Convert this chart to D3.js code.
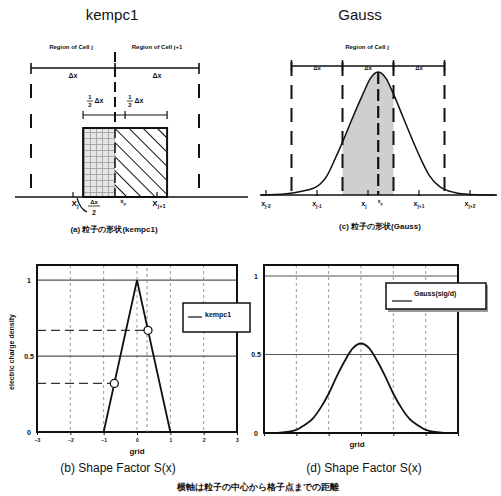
<!DOCTYPE html>
<html><head><meta charset="utf-8">
<script src="https://cdn.jsdelivr.net/npm/d3@7"></script>
<style>
body{margin:0;background:#fff}
svg{display:block}
text{font-family:"Liberation Sans",Arial,sans-serif;fill:#111}
</style>
</head><body>
<svg id="c" width="501" height="496"></svg>
<script>
// ---------------- data ----------------
const panelTitles = ["kempc1", "Gauss"];
const topCaptions = ["(a) 粒子の形状(kempc1)", "(c) 粒子の形状(Gauss)"];
const bottomCaptions = ["(b) Shape Factor S(x)", "(d) Shape Factor S(x)"];
const footnote = "横軸は粒子の中心から格子点までの距離";
const regionLabels = ["Region of Cell j", "Region of Cell j+1"];

// panel (a): top-hat particle, grid units (x_j = 0, x_j+1 = 1)
const cellEdgesA = [-0.5, 0.5, 1.5];
const particleEdgesA = [0.12, 1.12];
const xpA = 0.62;
const gridPtsA = [0, 1];
const gridSubsA = ["j", "j+1"];

// panel (c): Gaussian particle
const cellEdgesC = [-1.5, -0.5, 0.5, 1.5];
const gridPtsC = [-2, -1, 0, 1, 2];
const gridSubsC = ["j-2", "j-1", "j", "j+1", "j+2"];
const xpC = 0.2;
const gaussOffsets = [-2.3, -1.8, -1.5, -1.2, -1.0, -0.85, -0.7, -0.5, -0.3, -0.15, 0, 0.15, 0.3, 0.5, 0.7, 0.85, 1.0, 1.2, 1.5, 1.8, 2.3];
const gaussHeights = [0.0, 0.01, 0.03, 0.07, 0.16, 0.29, 0.43, 0.63, 0.82, 0.95, 1.0, 0.95, 0.82, 0.62, 0.42, 0.28, 0.16, 0.07, 0.02, 0.005, 0.0];

// panel (b): kempc1 shape factor
const gridTicks = [-3, -2, -1, 0, 1, 2, 3];
const gridLines = [-2, -1, 0, 1, 2];
const kempX = [-1, 0, 1];
const kempY = [0, 1, 0];
const markerX = [-0.68, 0.33];
const markerY = [0.32, 0.67];
const yTickVals = [0, 0.5, 1];
const yTickLabels = ["0", "0.5", "1"];

// panel (d): Gauss shape factor
const gaussX = [-3, -2.5, -2, -1.75, -1.5, -1.25, -1, -0.75, -0.5, -0.25, 0, 0.25, 0.5, 0.75, 1, 1.25, 1.5, 1.75, 2, 2.5, 3];
const gaussY = [0, 0.003, 0.02, 0.05, 0.09, 0.16, 0.25, 0.36, 0.46, 0.54, 0.57, 0.54, 0.46, 0.36, 0.25, 0.16, 0.09, 0.05, 0.02, 0.003, 0];

// ---------------- drawing ----------------
const svg = d3.select("#c");
const defs = svg.append("defs");

const gp = defs.append("pattern").attr("id", "gridPat").attr("width", 6).attr("height", 6).attr("patternUnits", "userSpaceOnUse");
gp.append("rect").attr("width", 6).attr("height", 6).attr("fill", "#e6e6e6");
gp.append("path").attr("d", "M0,0.5H6M0.5,0V6").attr("stroke", "#9a9a9a").attr("stroke-width", 0.8);

const hp = defs.append("pattern").attr("id", "hatchPat").attr("width", 10).attr("height", 10)
  .attr("patternUnits", "userSpaceOnUse").attr("patternTransform", "rotate(-45)");
hp.append("rect").attr("width", 10).attr("height", 10).attr("fill", "#fff");
hp.append("line").attr("x1", 0).attr("y1", 0).attr("x2", 0).attr("y2", 10).attr("stroke", "#111").attr("stroke-width", 2);

function txt(g, x, y, s, size, opts = {}) {
  const t = g.append("text").attr("x", x).attr("y", y).attr("font-size", size)
    .attr("text-anchor", opts.anchor || "middle").text(s);
  if (opts.bold) t.attr("font-weight", "bold");
  return t;
}
function subLabel(g, x, y, base, sub, size) {
  const t = g.append("text").attr("x", x).attr("y", y).attr("font-size", size).attr("text-anchor", "middle").attr("font-weight", "bold");
  t.append("tspan").text(base);
  t.append("tspan").attr("dy", 2).attr("font-size", size * 0.7).text(sub);
  return t;
}

// titles
txt(svg, 112, 20, panelTitles[0], 15);
txt(svg, 360, 20, panelTitles[1], 15);

// ===== panel (a) =====
{
  const g = svg.append("g");
  const xa = d3.scaleLinear().domain([0, 1]).range([73, 157]);
  const ya = d3.scaleLinear().domain([0, 1]).range([197, 128]);
  txt(g, xa(0) - 2, 49, regionLabels[0], 6, {bold: true});
  txt(g, xa(1), 49, regionLabels[1], 6, {bold: true});
  g.append("line").attr("x1", xa(cellEdgesA[0])).attr("x2", xa(cellEdgesA[2])).attr("y1", 68).attr("y2", 68).attr("stroke", "#111").attr("stroke-width", 1.6);
  cellEdgesA.forEach(e => g.append("line").attr("x1", xa(e)).attr("x2", xa(e)).attr("y1", 63).attr("y2", 74).attr("stroke", "#111").attr("stroke-width", 1.6));
  txt(g, xa(0), 78, "Δx", 7, {bold: true});
  txt(g, xa(1), 78, "Δx", 7, {bold: true});
  cellEdgesA.forEach((e, i) => g.append("line").attr("x1", xa(e)).attr("x2", xa(e))
    .attr("y1", i === 1 ? 52 : 84).attr("y2", 196).attr("stroke", "#111").attr("stroke-width", 2)
    .attr("stroke-dasharray", i === 1 ? "10,5" : "14,16"));
  g.append("rect").attr("x", xa(particleEdgesA[0])).attr("y", ya(1)).attr("width", xa(0.5) - xa(particleEdgesA[0])).attr("height", ya(0) - ya(1)).attr("fill", "url(#gridPat)");
  g.append("rect").attr("x", xa(0.5)).attr("y", ya(1)).attr("width", xa(particleEdgesA[1]) - xa(0.5)).attr("height", ya(0) - ya(1)).attr("fill", "url(#hatchPat)");
  g.append("rect").attr("x", xa(particleEdgesA[0])).attr("y", ya(1)).attr("width", xa(particleEdgesA[1]) - xa(particleEdgesA[0])).attr("height", ya(0) - ya(1)).attr("fill", "none").attr("stroke", "#111").attr("stroke-width", 2);
  g.append("line").attr("x1", xa(0.5)).attr("x2", xa(0.5)).attr("y1", ya(1)).attr("y2", ya(0)).attr("stroke", "#111").attr("stroke-width", 1.5).attr("stroke-dasharray", "10,5");
  g.append("line").attr("x1", xa(particleEdgesA[0])).attr("x2", xa(particleEdgesA[1])).attr("y1", 115).attr("y2", 115).attr("stroke", "#111").attr("stroke-width", 1.2);
  [particleEdgesA[0], xpA, particleEdgesA[1]].forEach(e => g.append("line").attr("x1", xa(e)).attr("x2", xa(e)).attr("y1", 111).attr("y2", 119).attr("stroke", "#111").attr("stroke-width", 1.2));
  [95, 135].forEach(x => {
    txt(g, x - 5, 99, "1", 6, {bold: true});
    g.append("line").attr("x1", x - 8).attr("x2", x - 2).attr("y1", 101).attr("y2", 101).attr("stroke", "#111").attr("stroke-width", 0.8);
    txt(g, x - 5, 107, "2", 6, {bold: true});
    txt(g, x + 4, 103, "Δx", 7, {bold: true});
  });
  g.append("line").attr("x1", 15).attr("x2", 248).attr("y1", ya(0)).attr("y2", ya(0)).attr("stroke", "#111").attr("stroke-width", 1.5);
  gridPtsA.forEach(p => g.append("line").attr("x1", xa(p)).attr("x2", xa(p)).attr("y1", ya(0) - 5).attr("y2", ya(0)).attr("stroke", "#111").attr("stroke-width", 1.2));
  gridPtsA.forEach((p, i) => subLabel(g, xa(p) + 2, 206, "X", gridSubsA[i], 8));
  subLabel(g, xa(xpA) - 2, 203, "x", "p", 6);
  g.append("path").attr("d", `M${xa(0) + 4},${ya(0) + 1} Q${xa(0) + 7},${ya(0) + 12} ${xa(0) + 14},${ya(0) + 15}`).attr("fill", "none").attr("stroke", "#111").attr("stroke-width", 1.2);
  txt(g, 94, 204, "Δx", 6, {bold: true});
  g.append("line").attr("x1", 88).attr("x2", 100).attr("y1", 206).attr("y2", 206).attr("stroke", "#111").attr("stroke-width", 0.8);
  txt(g, 94, 215, "2", 7, {bold: true});
  txt(g, 114, 232, topCaptions[0], 8, {bold: true});
}

// ===== panel (c) =====
{
  const g = svg.append("g");
  const xc = d3.scaleLinear().domain([0, 1]).range([368, 419]);
  const yc = d3.scaleLinear().domain([0, 1]).range([195, 72]);
  txt(g, 367, 49, regionLabels[0], 6, {bold: true});
  const pts = gaussOffsets.map((d, i) => [xc(xpC + d), yc(gaussHeights[i])]);
  defs.append("clipPath").attr("id", "cellClip").append("rect")
    .attr("x", xc(cellEdgesC[1])).attr("y", 60).attr("width", xc(cellEdgesC[2]) - xc(cellEdgesC[1])).attr("height", 140);
  g.append("path").datum(pts).attr("clip-path", "url(#cellClip)")
    .attr("d", d3.area().x(d => d[0]).y0(yc(0)).y1(d => d[1]).curve(d3.curveMonotoneX))
    .attr("fill", "#cfcfcf");
  g.append("line").attr("x1", xc(cellEdgesC[0])).attr("x2", xc(cellEdgesC[3])).attr("y1", 66).attr("y2", 66).attr("stroke", "#111").attr("stroke-width", 1.5);
  cellEdgesC.forEach(e => g.append("line").attr("x1", xc(e)).attr("x2", xc(e)).attr("y1", 60).attr("y2", 71).attr("stroke", "#111").attr("stroke-width", 1.5));
  [-1, 0, 1].forEach(c => txt(g, xc(c), 70, "Δx", 6, {bold: true}));
  cellEdgesC.forEach(e => g.append("line").attr("x1", xc(e)).attr("x2", xc(e)).attr("y1", 62).attr("y2", 194)
    .attr("stroke", "#111").attr("stroke-width", 2).attr("stroke-dasharray", "14,9"));
  g.append("path").datum(pts).attr("d", d3.line().curve(d3.curveMonotoneX)).attr("fill", "none").attr("stroke", "#111").attr("stroke-width", 1.5);
  g.append("line").attr("x1", xc(xpC)).attr("x2", xc(xpC)).attr("y1", yc(1)).attr("y2", yc(0)).attr("stroke", "#111").attr("stroke-width", 2.2).attr("stroke-dasharray", "12,5");
  g.append("line").attr("x1", 260).attr("x2", 497).attr("y1", yc(0)).attr("y2", yc(0)).attr("stroke", "#111").attr("stroke-width", 1.5);
  gridPtsC.forEach(p => g.append("line").attr("x1", xc(p)).attr("x2", xc(p)).attr("y1", yc(0) - 5).attr("y2", yc(0) + 1).attr("stroke", "#111").attr("stroke-width", 1.2));
  gridPtsC.forEach((p, i) => subLabel(g, xc(p) - (p === 0 ? 4 : 0), 206, "x", gridSubsC[i], 7));
  subLabel(g, xc(xpC) + 2, 203, "x", "p", 5);
  txt(g, 380, 229, topCaptions[1], 8, {bold: true});
}

// ===== bottom panels =====
function shapePanel(opt) {
  const g = svg.append("g");
  const x = d3.scaleLinear().domain([-3, 3]).range(opt.xr);
  const y = d3.scaleLinear().domain([0, opt.ymax]).range(opt.yr);
  const [x0, x1] = opt.xr, [yb, yt] = opt.yr;
  gridLines.forEach(v => g.append("line").attr("x1", x(v)).attr("x2", x(v)).attr("y1", yt).attr("y2", yb)
    .attr("stroke", "#999").attr("stroke-width", 1).attr("stroke-dasharray", "3,3"));
  [0.5, 1].forEach(v => g.append("line").attr("x1", x0).attr("x2", x1).attr("y1", y(v)).attr("y2", y(v))
    .attr("stroke", "#555").attr("stroke-width", 1.2));
  g.append("rect").attr("x", x0).attr("y", yt).attr("width", x1 - x0).attr("height", yb - yt)
    .attr("fill", "none").attr("stroke", "#111").attr("stroke-width", 2);
  yTickVals.forEach((v, i) => txt(g, x0 - 8, y(v) + 3, yTickLabels[i], 7, {bold: true}));
  const ax = g.append("g").attr("transform", `translate(0,${yb})`)
    .call(d3.axisBottom(x).tickValues(gridTicks).tickSize(3).tickFormat(opt.tickLabels ? d3.format("d") : () => ""));
  ax.select(".domain").remove();
  ax.selectAll("line").attr("stroke", "#111");
  ax.selectAll("text").attr("font-size", 5).attr("font-weight", "bold").attr("fill", "#111");
  txt(g, (x0 + x1) / 2 + opt.gridDx, yb + opt.gridDy, "grid", 8, {bold: true});
  txt(g, (x0 + x1) / 2 + opt.capDx, 472, opt.caption, 12);
  return {g, x, y};
}

// (b)
{
  const {g, x, y} = shapePanel({xr: [37, 237], yr: [432, 265], ymax: 1.1, caption: bottomCaptions[0], gridDx: 0, gridDy: 22, capDx: -19, tickLabels: true});
  markerX.forEach((mx, i) => {
    g.append("line").attr("x1", 37).attr("x2", x(mx)).attr("y1", y(markerY[i])).attr("y2", y(markerY[i]))
      .attr("stroke", "#333").attr("stroke-width", 1.2).attr("stroke-dasharray", "9,5");
  });
  g.append("line").attr("x1", x(0.3)).attr("x2", x(0.3)).attr("y1", 268).attr("y2", 432).attr("stroke", "#888").attr("stroke-dasharray", "3,3");
  g.append("path").datum(kempX.map((v, i) => [x(v), y(kempY[i])])).attr("d", d3.line())
    .attr("fill", "none").attr("stroke", "#111").attr("stroke-width", 1.8);
  g.selectAll("circle.m").data(markerX).join("circle").attr("cx", d => x(d)).attr("cy", (d, i) => y(markerY[i]))
    .attr("r", 4).attr("fill", "#fff").attr("stroke", "#111").attr("stroke-width", 1.3);
  g.append("text").attr("transform", "translate(14,352) rotate(-90)").attr("text-anchor", "middle")
    .attr("font-size", 7).attr("font-weight", "bold").text("electric charge density");
  g.append("rect").attr("x", 183).attr("y", 303).attr("width", 67).attr("height", 29).attr("fill", "#fff").attr("stroke", "#111").attr("stroke-width", 1.5);
  g.append("line").attr("x1", 188).attr("x2", 202).attr("y1", 317).attr("y2", 317).attr("stroke", "#111").attr("stroke-width", 1.2);
  txt(g, 205, 317, panelTitles[0], 7, {anchor: "start", bold: true});
}

// (d)
{
  const {g, x, y} = shapePanel({xr: [264, 458], yr: [433, 265], ymax: 1.07, caption: bottomCaptions[1], gridDx: -4, gridDy: 14, capDx: 3, tickLabels: false});
  g.append("path").datum(gaussX.map((v, i) => [x(v), y(gaussY[i])])).attr("d", d3.line().curve(d3.curveMonotoneX))
    .attr("fill", "none").attr("stroke", "#111").attr("stroke-width", 1.8);
  g.append("rect").attr("x", 388).attr("y", 285).attr("width", 100).attr("height", 27).attr("fill", "#999");
  g.append("rect").attr("x", 386).attr("y", 283).attr("width", 100).attr("height", 26).attr("fill", "#fff").attr("stroke", "#111").attr("stroke-width", 1.5);
  g.append("line").attr("x1", 392).attr("x2", 412).attr("y1", 301).attr("y2", 301).attr("stroke", "#111").attr("stroke-width", 1.2);
  txt(g, 414, 296, "Gauss(sig/d)", 7, {anchor: "start", bold: true});
}

txt(svg, 258, 490, footnote, 9, {bold: true}).attr("font-family", "'Noto Sans CJK JP',sans-serif");
</script>
</body></html>
